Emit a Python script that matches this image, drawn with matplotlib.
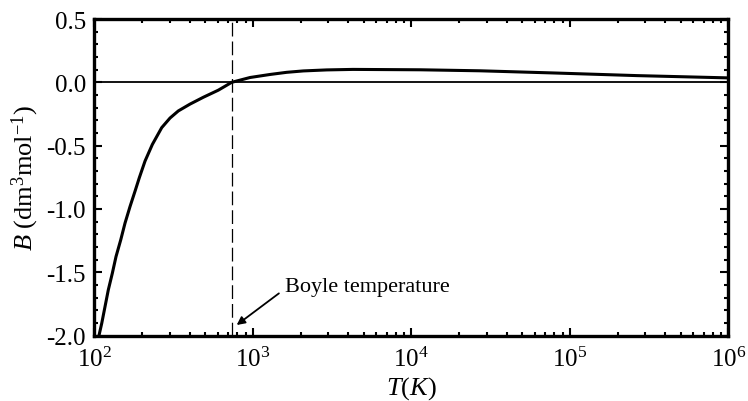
import math
import matplotlib
matplotlib.use("Agg")
import matplotlib.pyplot as plt
from matplotlib.ticker import MultipleLocator, LogLocator, NullFormatter, FuncFormatter

plt.rcParams['font.family'] = ['Liberation Serif', 'DejaVu Serif']
plt.rcParams['mathtext.fontset'] = 'custom'
plt.rcParams['mathtext.rm'] = 'Liberation Serif'
plt.rcParams['mathtext.it'] = 'Liberation Serif:italic'
plt.rcParams['mathtext.bf'] = 'Liberation Serif:bold'
plt.rcParams['axes.unicode_minus'] = False

# Data
temperature_K = [107, 111.4, 116.8, 122.5, 129.9, 137.0, 146.8, 156.2, 168.0, 181.4, 192.2,
                 208.9, 232.3, 266.2, 300.4, 338.8, 401.7, 487.3, 605.8, 736, 960, 1284,
                 1636, 2083, 2924, 4285, 11400, 27200, 78500, 265000, 1000000]
B_values = [-2.0, -1.903, -1.772, -1.640, -1.508, -1.377, -1.244, -1.112, -0.981, -0.853, -0.754,
            -0.622, -0.491, -0.358, -0.282, -0.226, -0.172, -0.118, -0.062, 0.0, 0.038, 0.062,
            0.079, 0.090, 0.098, 0.102, 0.099, 0.091, 0.074, 0.053, 0.035]
boyle_T = 736
x_limits = (100, 1e6)
y_limits = (-2.0, 0.5)
annot_text = "Boyle temperature"
annot_xy = (791, -1.917)
annot_text_xy = (1596, -1.616)

fig = plt.figure(figsize=(7.48, 4.02), dpi=100)
ax = fig.add_axes([0.1261, 0.1629, 0.8476, 0.7873])

ax.plot(temperature_K, B_values, color='black', lw=2.2, solid_capstyle='butt', solid_joinstyle='round')
ax.axhline(0.0, color='black', lw=1.3)
ax.axvline(boyle_T, color='black', lw=0.9, dashes=(11, 4))

ax.set_xscale('log')
ax.set_xlim(*x_limits)
ax.set_ylim(*y_limits)
ax.yaxis.set_major_locator(MultipleLocator(0.5))
ax.yaxis.set_minor_locator(MultipleLocator(0.1))
ax.yaxis.set_major_formatter(FuncFormatter(lambda v, p: f"{v:.1f}".replace('-0.0', '0.0')))
ax.xaxis.set_major_locator(LogLocator(base=10, numticks=10))
ax.xaxis.set_minor_locator(LogLocator(base=10, subs=range(2, 10), numticks=50))
ax.xaxis.set_minor_formatter(NullFormatter())
ax.xaxis.set_major_formatter(FuncFormatter(lambda v, p: r"$\mathregular{10^{%d}}$" % round(math.log10(v))))

ax.tick_params(which='both', direction='in', top=True, right=True, labelsize=18, width=1.5)
ax.tick_params(which='major', length=6, pad=6)
ax.tick_params(which='minor', length=3)
ax.tick_params(axis='x', which='major', pad=8)
for s in ax.spines.values():
    s.set_linewidth(2.4)

ax.set_xlabel(r"$T(K)$", fontsize=19, labelpad=2)
ax.set_ylabel(r"$B$ (dm$^{\mathregular{3}}$mol$^{\mathregular{-1}}$)", fontsize=19, labelpad=4)

ax.annotate(annot_text, xy=annot_xy, xytext=annot_text_xy, fontsize=16, va='center', ha='left',
            arrowprops=dict(arrowstyle='-|>', color='black', lw=1.3, mutation_scale=12,
                            shrinkA=3, shrinkB=0, relpos=(0, 0.4)))

fig.savefig('out.png', dpi=100)
